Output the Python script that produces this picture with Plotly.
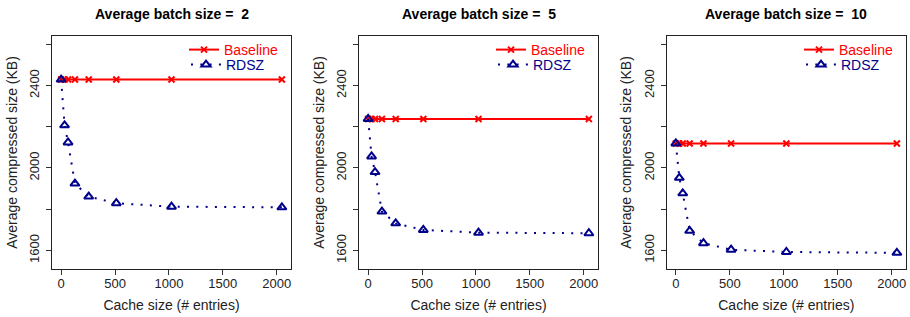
import plotly.graph_objects as go

# ---- data ----
cache_sizes = [0, 32, 64, 128, 256, 512, 1024, 2048]
batch_sizes = [2, 5, 10]
baseline_b2 = [2429, 2429, 2429, 2429, 2429, 2429, 2429, 2429]
rdsz_b2 = [2429, 2207, 2124, 1924, 1861, 1829, 1812, 1809]
baseline_b5 = [2238, 2238, 2238, 2238, 2238, 2238, 2238, 2238]
rdsz_b5 = [2238, 2056, 1980, 1788, 1731, 1699, 1686, 1683]
baseline_b10 = [2119, 2119, 2119, 2119, 2119, 2119, 2119, 2119]
rdsz_b10 = [2119, 1952, 1877, 1695, 1635, 1603, 1592, 1588]

y_tickvals = [1600, 1800, 2000, 2200, 2400, 2600]
y_ticktext = ["1600", "", "2000", "", "2400", ""]
x_tickvals = [0, 500, 1000, 1500, 2000]
x_ticktext = ["0", "500", "1000", "1500", "2000"]

baselines = [baseline_b2, baseline_b5, baseline_b10]
rdszs = [rdsz_b2, rdsz_b5, rdsz_b10]

RED = "#FF0000"
BLUE = "#00008B"
FONT = "Liberation Sans, Arial, Helvetica, sans-serif"
W, H = 910, 317

x_domains_px = [(52.3, 290.7), (359.3, 597.7), (667.0, 905.7)]
y_dom = [(H - 269.3) / H, (H - 35.7) / H]

fig = go.Figure()
layout = dict(
    width=W, height=H,
    margin=dict(l=0, r=0, t=0, b=0, autoexpand=False),
    paper_bgcolor="white", plot_bgcolor="white",
    font=dict(family=FONT, size=13, color="black"),
    showlegend=True,
    annotations=[],
)

for i, (bs, base, rd) in enumerate(zip(batch_sizes, baselines, rdszs)):
    n = "" if i == 0 else str(i + 1)
    xa, ya = "x" + n, "y" + n
    lg_b = "legend" + ("" if i == 0 else str(2 * i + 1))
    lg_r = "legend" + str(2 * i + 2)
    fig.add_trace(go.Scatter(
        x=cache_sizes, y=base, xaxis=xa, yaxis=ya, mode="lines+markers",
        name="<span style='color:%s'>Baseline</span>" % RED, legend=lg_b,
        showlegend=True,
        line=dict(color=RED, width=2),
        marker=dict(symbol="x-thin", size=6, color=RED,
                    line=dict(color=RED, width=2)),
    ))
    fig.add_trace(go.Scatter(
        x=cache_sizes, y=rd, xaxis=xa, yaxis=ya, mode="lines+markers",
        name="<span style='color:%s'>RDSZ</span>" % BLUE, legend=lg_r,
        showlegend=True,
        line=dict(color=BLUE, width=2, dash="2px,7.3px"),
        marker=dict(symbol="triangle-up-open", size=8, color=BLUE,
                    line=dict(color=BLUE, width=2)),
    ))
    x0, x1 = x_domains_px[i]
    layout["xaxis" + n] = dict(
        domain=[x0 / W, x1 / W], anchor=ya, range=[-81.9, 2129.9],
        tickvals=x_tickvals, ticktext=x_ticktext,
        ticks="outside", ticklen=5, tickwidth=1, tickcolor="#333",
        showline=True, linecolor="#222", linewidth=1, mirror=True,
        showgrid=False, zeroline=False, automargin=False,
        ticklabelstandoff=-3,
        tickfont=dict(size=13, color="#222"),
        title=dict(text="Cache size (# entries)", font=dict(size=14, color="#222"),
                   standoff=10),
    )
    layout["yaxis" + n] = dict(
        domain=y_dom, anchor=xa, range=[1508, 2642],
        tickvals=y_tickvals, ticktext=y_ticktext, tickangle=-90,
        ticks="outside", ticklen=5, tickwidth=1, tickcolor="#333",
        showline=True, linecolor="#222", linewidth=1, mirror=True,
        showgrid=False, zeroline=False, automargin=False,
        ticklabelstandoff=2,
        tickfont=dict(size=13, color="#222"),
        title=dict(text="Average compressed size (KB)",
                   font=dict(size=14, color="#222"), standoff=6),
    )
    for lg, yc, xl in ((lg_b, 50, 106.7), (lg_r, 65, 104.7)):
        layout[lg] = dict(
            x=(x1 - xl) / W, xanchor="left", y=1 - yc / H, yanchor="middle",
            bgcolor="rgba(0,0,0,0)", borderwidth=0,
            font=dict(size=14, family=FONT),
            itemwidth=30, tracegroupgap=0, visible=True,
        )
    layout["annotations"].append(dict(
        text="<b>Average batch size =\u00a0 %d</b>" % bs,
        x=(x0 + x1) / 2 / W, y=1 - 14 / H, xref="paper", yref="paper",
        xanchor="center", yanchor="middle", showarrow=False,
        font=dict(size=14, family=FONT, color="black"),
    ))

fig.update_layout(**layout)
fig.write_html("out.html", config={"displayModeBar": False},
               post_script="document.body.style.margin='0px';")
